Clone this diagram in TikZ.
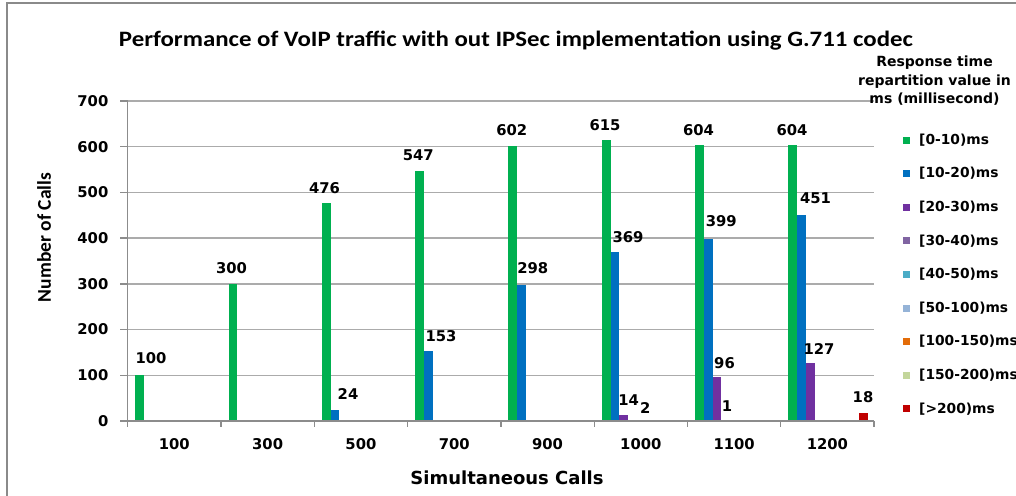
\documentclass[tikz,border=0pt]{standalone}
\usepackage{fontspec}
\setmainfont{DejaVu Sans}
\newfontfamily\calib{Carlito}
\definecolor{ser0}{HTML}{00B050}
\definecolor{ser1}{HTML}{0070C0}
\definecolor{ser2}{HTML}{7030A0}
\definecolor{ser3}{HTML}{8064A2}
\definecolor{ser4}{HTML}{4BACC6}
\definecolor{ser5}{HTML}{95B3D7}
\definecolor{ser6}{HTML}{E36C09}
\definecolor{ser7}{HTML}{C3D69B}
\definecolor{ser8}{HTML}{C00000}
\definecolor{gridc}{HTML}{ABABAB}
\definecolor{axisc}{HTML}{8C8C8C}
\definecolor{framec}{HTML}{8A8A8A}
\tikzset{
  gridline/.style={draw=gridc, line width=1.3pt},
  axisline/.style={draw=axisc, line width=1.3pt},
  vlab/.style={inner sep=0pt, font=\fontsize{14.8}{16}\selectfont\bfseries},
  ticklab/.style={inner sep=0pt, font=\fontsize{14.8}{16}\selectfont\bfseries},
  legtext/.style={inner sep=0pt, anchor=west, font=\fontsize{13.8}{15}\selectfont\bfseries},
  legkey/.style={minimum size=7pt, inner sep=0pt},
}
\begin{document}
\begin{tikzpicture}[x=1pt,y=-1pt]
\useasboundingbox (0,0) rectangle (1016,495);
\clip (0,0) rectangle (1016,495);
\fill[white] (0,0) rectangle (1016,495);
% chart frame
\draw[framec, line width=2.5pt] (7,520) -- (7,3) -- (1040,3);

% title
\node[inner sep=0pt, font=\calib\fontsize{22}{26}\selectfont\bfseries, xscale=1.13] (title) at (516,41)
  {Performance of VoIP traffic with out IPSec implementation using G.711 codec};

% horizontal gridlines
\foreach \v in {100,200,...,700}
  \draw[gridline] (127.7,{421-\v*0.457143}) -- (874,{421-\v*0.457143});

% value axis with ticks and labels
\draw[axisline] (127.7,101) -- (127.7,426);
\foreach \v in {0,100,...,700} {
  \draw[axisline] (120,{421-\v*0.457143}) -- (127.7,{421-\v*0.457143});
  \node[ticklab, anchor=east] (ytick\v) at (108.5,{421-\v*0.457143}) {\v};
}
\node[inner sep=0pt, rotate=90, font=\calib\fontsize{19.5}{22}\selectfont\bfseries] (ytitle) at (44,237.5) {Number of Calls};

% bars: category / series / value
\foreach \c/\s/\v in {0/0/100, 1/0/300, 2/0/476, 2/1/24, 3/0/547, 3/1/153,
    4/0/602, 4/1/298, 5/0/615, 5/1/369, 5/2/14, 5/4/2,
    6/0/604, 6/1/399, 6/2/96, 6/3/1, 7/0/604, 7/1/451, 7/2/127, 7/8/18}
  \fill[ser\s] ({127.7+93.3*\c+7.5+8.8*\s},421) rectangle ++(8.8,{-\v*0.457143});

% category axis with ticks and labels
\draw[axisline] (120,421) -- (874,421);
\foreach \i in {0,...,8}
  \draw[axisline] ({127.7+93.3*\i},421) -- ({127.7+93.3*\i},426.5);
\foreach \t [count=\i from 0] in {100,300,500,700,900,1000,1100,1200}
  \node[ticklab] (xtick\i) at ({174.3+93.3*\i},444.5) {\t};
\node[inner sep=0pt, font=\fontsize{18}{20}\selectfont\bfseries] (xtitle) at (507,478) {Simultaneous Calls};

% data labels
\foreach \x/\y/\t [count=\n] in {151/358.5/100, 231.5/268/300,
    324.5/188.5/476, 348/394.5/24, 418.3/155/547, 441/336.5/153,
    511.7/130.5/602, 532.7/268/298, 605/125/615, 628/237/369,
    628.7/399.7/14, 645.3/408.3/2, 698.5/130.3/604, 721.3/221.5/399,
    724.5/363.5/96, 727/406/1, 792/130.3/604, 815.5/198/451,
    819/349/127, 863/397.5/18}
  \node[vlab] (val\n) at (\x,\y) {\t};

% legend
\node[inner sep=0pt, align=center, font=\fontsize{14}{18.5}\selectfont\bfseries] (legtitle) at (934.5,81)
  {Response time\\repartition value in\\ms (millisecond)};
\foreach \k/\t in {0/{[0-10)ms}, 1/{[10-20)ms}, 2/{[20-30)ms}, 3/{[30-40)ms},
    4/{[40-50)ms}, 5/{[50-100)ms}, 6/{[100-150)ms}, 7/{[150-200)ms}, 8/{[>200)ms}} {
  \node[legkey, fill=ser\k] (key\k) at (906.5,{140+33.6*\k}) {};
  \node[legtext] (leg\k) at (919,{140+33.6*\k}) {\t};
}
\end{tikzpicture}
\end{document}
